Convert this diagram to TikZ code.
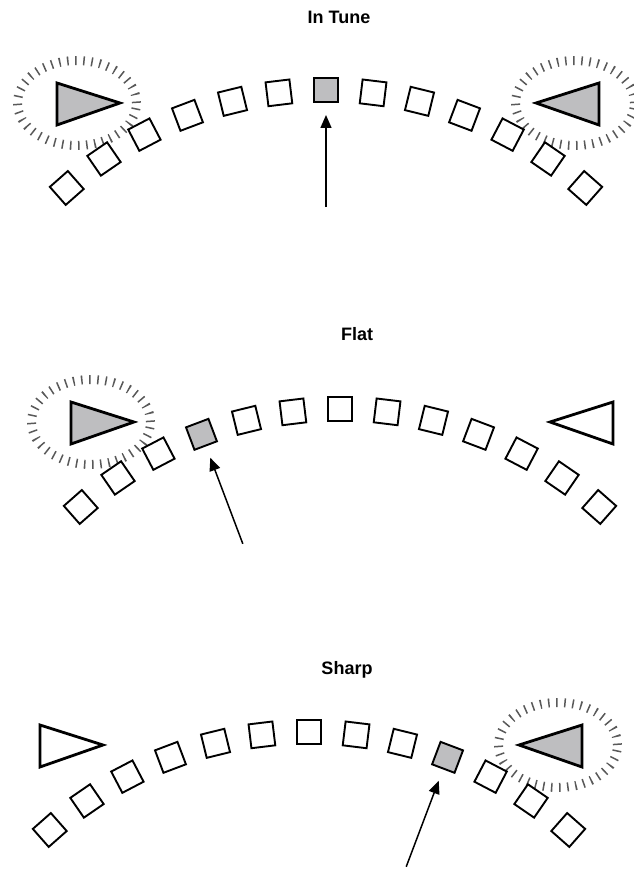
\documentclass[tikz,border=0pt]{standalone}
\usepackage{fontspec}
\setmainfont{Liberation Sans}
\usetikzlibrary{arrows.meta}
\definecolor{meter}{RGB}{190,190,192}
\tikzset{
  sq/.style={shape=rectangle, draw=black, line width=1.9pt, minimum size=24pt, inner sep=0pt, outer sep=0pt},
  tri/.style={draw=black, line width=2.8pt, line join=miter},
  ring/.style={draw=black!65, line width=9pt, dash pattern=on 1.5pt off 6.6pt},
  ptr/.style={draw=black, line width=1.5pt, -{Triangle[length=13pt,width=11pt]}, shorten >=13pt},
  ttl/.style={font=\bfseries\fontsize{18}{20}\selectfont, anchor=base, inner sep=0pt},
}
% #1 prefix, #2 cx, #3 top y, #4 lit index
\newcommand{\tunerarc}[4]{%
  \foreach \k in {-6,...,6}{%
    \pgfmathsetmacro\ang{90-6.9*\k}%
    \ifnum\k=#4\relax\def\fc{meter}\else\def\fc{white}\fi
    \node[sq, fill=\fc, rotate=\ang-90] (#1s\k) at ({#2+392*cos(\ang)}, {-#3-392+392*sin(\ang)}) {};
  }%
  \pgfmathsetmacro\pang{90-6.9*#4}%
  \coordinate (#1tail) at ({#2+275*cos(\pang)}, {-#3-392+275*sin(\pang)});
  \draw[ptr] (#1tail) -- (#1s#4);
}
\newcommand{\lefttri}[3]{% cx, ty, fill
  \draw[tri, fill=#3] (#1-269,-#2+7) -- (#1-269,-#2-35) -- (#1-206,-#2-13) -- cycle;}
\newcommand{\righttri}[3]{%
  \draw[tri, fill=#3] (#1+273,-#2+7) -- (#1+273,-#2-35) -- (#1+210,-#2-13) -- cycle;}
\newcommand{\leftring}[2]{\draw[ring] (#1-249,-#2-13) ellipse (59.5pt and 42.5pt);}
\newcommand{\rightring}[2]{\draw[ring] (#1+249,-#2-13) ellipse (59.5pt and 42.5pt);}

\begin{document}
\begin{tikzpicture}[x=1pt,y=1pt]
  \fill[white] (0,0) rectangle (633,-869);
  \path[use as bounding box] (0,0) rectangle (633,-869);

  % Panel 1: In Tune
  \node[ttl] (t1) at (339,-24) {In Tune};
  \leftring{326}{90}
  \rightring{326}{90}
  \lefttri{326}{90}{meter}
  \righttri{326}{90}{meter}
  \tunerarc{a}{326}{90}{0}

  % Panel 2: Flat
  \node[ttl] (t2) at (357,-340) {Flat};
  \leftring{340}{409}
  \lefttri{340}{409}{meter}
  \righttri{340}{409}{white}
  \tunerarc{b}{340}{409}{-3}

  % Panel 3: Sharp
  \node[ttl] (t3) at (347,-674) {Sharp};
  \rightring{309}{732}
  \lefttri{309}{732}{white}
  \righttri{309}{732}{meter}
  \tunerarc{c}{309}{732}{3}
\end{tikzpicture}
\end{document}
